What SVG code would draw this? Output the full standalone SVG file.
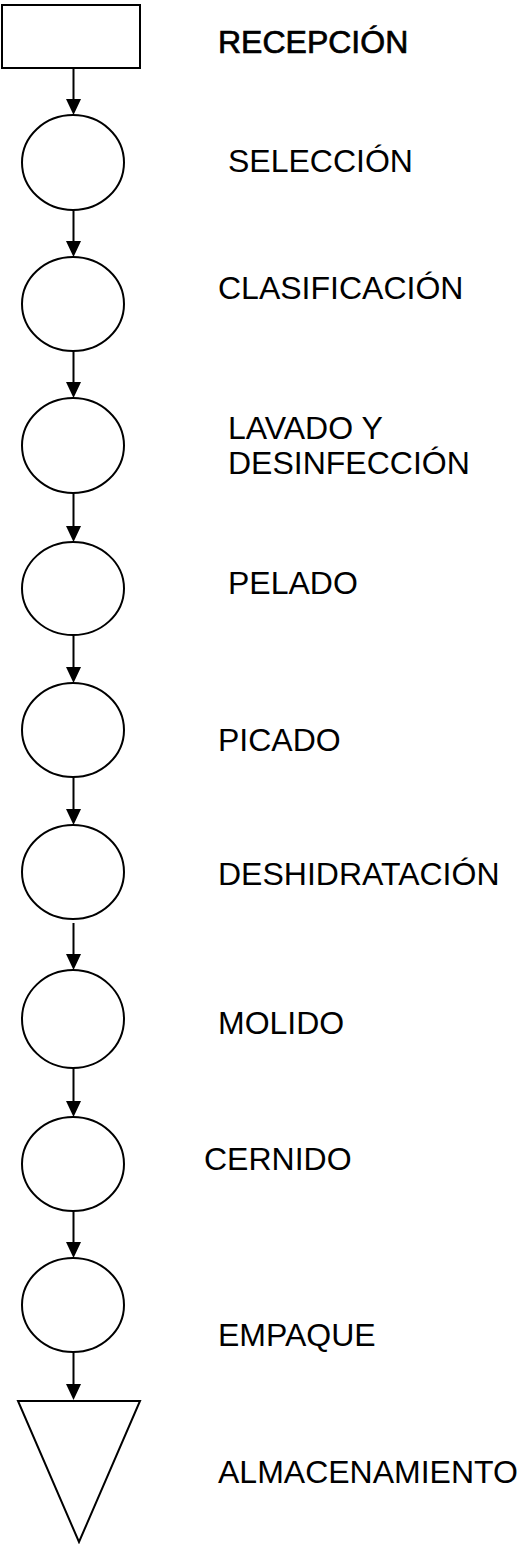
<svg xmlns="http://www.w3.org/2000/svg" width="518" height="1544" viewBox="0 0 518 1544">
  <style>
    .shape { fill: #ffffff; stroke: #000000; stroke-width: 2; }
    .link { stroke: #000000; stroke-width: 2; fill: none; marker-end: url(#head); }
    .label { font-family: "Liberation Sans", Arial, sans-serif; font-size: 32px; fill: #000000; }
    .strong { stroke: #000000; stroke-width: 0.7; }
  </style>
  <defs>
    <marker id="head" markerUnits="userSpaceOnUse" markerWidth="16" markerHeight="16" refX="0" refY="7.5" orient="auto">
      <path d="M0,0 L16,7.5 L0,15 z" fill="#000000"/>
    </marker>
  </defs>
  <rect width="518" height="1544" fill="#ffffff"/>

  <!-- flow connectors: each line stops where its arrowhead begins -->
  <g id="connectors">
    <line class="link" x1="73.5" y1="68" x2="73.5" y2="99"/>
    <line class="link" x1="73.5" y1="210" x2="73.5" y2="241"/>
    <line class="link" x1="73.5" y1="351" x2="73.5" y2="382"/>
    <line class="link" x1="73.5" y1="493" x2="73.5" y2="526"/>
    <line class="link" x1="73.5" y1="635" x2="73.5" y2="667"/>
    <line class="link" x1="73.5" y1="777" x2="73.5" y2="809"/>
    <line class="link" x1="73.5" y1="923" x2="73.5" y2="954"/>
    <line class="link" x1="73.5" y1="1068" x2="73.5" y2="1101"/>
    <line class="link" x1="73.5" y1="1211" x2="73.5" y2="1242"/>
    <line class="link" x1="73.5" y1="1352" x2="73.5" y2="1384"/>
  </g>

  <g id="recepcion">
    <rect class="shape" x="2" y="5" width="138" height="63"/>
    <text class="label strong" x="218" y="53">RECEPCIÓN</text>
  </g>
  <g id="seleccion">
    <ellipse class="shape" cx="73" cy="162.5" rx="51" ry="47.5"/>
    <text class="label" x="228" y="172">SELECCIÓN</text>
  </g>
  <g id="clasificacion">
    <ellipse class="shape" cx="73" cy="304" rx="51" ry="47"/>
    <text class="label" x="218" y="299">CLASIFICACIÓN</text>
  </g>
  <g id="lavado">
    <ellipse class="shape" cx="73" cy="445.5" rx="51" ry="47.5"/>
    <text class="label" x="228" y="439">LAVADO Y</text>
    <text class="label" x="228" y="474">DESINFECCIÓN</text>
  </g>
  <g id="pelado">
    <ellipse class="shape" cx="73" cy="588.5" rx="51" ry="46.5"/>
    <text class="label" x="228" y="594">PELADO</text>
  </g>
  <g id="picado">
    <ellipse class="shape" cx="73" cy="730" rx="51" ry="47"/>
    <text class="label" x="218" y="751">PICADO</text>
  </g>
  <g id="deshidratacion">
    <ellipse class="shape" cx="73" cy="872" rx="51" ry="47"/>
    <text class="label" x="218" y="885">DESHIDRATACIÓN</text>
  </g>
  <g id="molido">
    <ellipse class="shape" cx="73" cy="1019" rx="51" ry="49"/>
    <text class="label" x="218" y="1034">MOLIDO</text>
  </g>
  <g id="cernido">
    <ellipse class="shape" cx="73" cy="1164" rx="51" ry="47"/>
    <text class="label" x="204" y="1170">CERNIDO</text>
  </g>
  <g id="empaque">
    <ellipse class="shape" cx="73" cy="1305" rx="51" ry="47"/>
    <text class="label" x="218" y="1346">EMPAQUE</text>
  </g>
  <g id="almacenamiento">
    <polygon class="shape" points="18,1401 140,1401 79,1542"/>
    <text class="label" x="218" y="1483">ALMACENAMIENTO</text>
  </g>
</svg>
